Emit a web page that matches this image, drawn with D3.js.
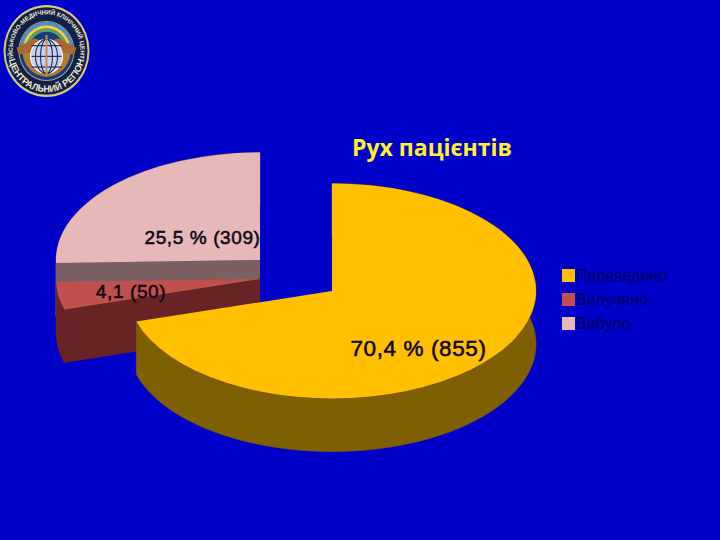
<!DOCTYPE html>
<html><head><meta charset="utf-8">
<script src="https://cdn.jsdelivr.net/npm/d3@7/dist/d3.min.js"></script>
<style>html,body{margin:0;padding:0;background:#0000c8}svg{display:block}</style>
</head><body><svg id="c" width="720" height="540"></svg>
<script>
const title = "Рух пацієнтів";
const categories = ["Переведено", "Вилучено", "Вибуло"];
const counts = [855, 50, 309];
const sliceLabels = ["70,4 % (855)", "4,1 (50)", "25,5 % (309)"];
const topColors = ["#ffc000", "#c0504d", "#e6b9b8"];
const sideColors = ["#7f6000", "#682424", "#7a6060"];
const centersX = [332, 260, 260];
const centersY = [291, 279, 260];
const labelX = [418.5, 131, 202.5];
const labelY = [356, 298, 244];
const labelSize = [22.5, 19, 19];

const BG = "#0000c8", INK = "#100818";
const RX = 204, RY = 107.5, DEPTH = 53;
const svg = d3.select("#c");
svg.append("rect").attr("width", 720).attr("height", 540).attr("fill", BG);

const arcs = d3.pie().sort(null).value(d => d)(counts);
const arc = d3.arc().innerRadius(0).outerRadius(RX);
const px = (i, a) => centersX[i] + RX * Math.sin(a);
const py = (i, a) => centersY[i] - RY * Math.cos(a);

function drawSlice(i) {
  const s = arcs[i];
  const g = svg.append("g");
  if (i > 0) {
    const a = s.startAngle;
    const poly = [[centersX[i], centersY[i]], [px(i, a), py(i, a)],
                  [px(i, a), py(i, a) + DEPTH], [centersX[i], centersY[i] + DEPTH]];
    g.append("path").attr("d", d3.line()(poly)).attr("fill", sideColors[i])
      .attr("stroke", sideColors[i]).attr("stroke-width", 0.6);
  }
  const rim = d3.range(s.startAngle, s.endAngle, 0.01).concat([s.endAngle]);
  g.append("path")
    .attr("d", d3.area().x(a => px(i, a)).y0(a => py(i, a)).y1(a => py(i, a) + DEPTH)(rim))
    .attr("fill", sideColors[i]).attr("stroke", sideColors[i]).attr("stroke-width", 0.6);
  g.append("path")
    .attr("transform", `translate(${centersX[i]},${centersY[i]}) scale(1,${RY / RX})`)
    .attr("d", arc(s)).attr("fill", topColors[i]);
}
[2, 1, 0].forEach(drawSlice);

sliceLabels.forEach((t, i) => {
  svg.append("text").attr("x", labelX[i]).attr("y", labelY[i])
    .attr("text-anchor", "middle").attr("fill", INK)
    .attr("stroke", INK).attr("stroke-width", 0.55)
    .style("font", `${labelSize[i]}px "Liberation Sans", Arial, sans-serif`)
    .style("letter-spacing", "0.6px")
    .text(t);
});

svg.append("text").attr("x", 432).attr("y", 156).attr("text-anchor", "middle")
  .attr("fill", "#fff030")
  .style("font", '700 23px "Open Sans", "Noto Sans", sans-serif')
  .text(title);

const legendY = d3.scalePoint().domain(categories).range([275, 323]);
categories.forEach((c, i) => {
  const y = legendY(c);
  svg.append("rect").attr("x", 562).attr("y", y - 6).attr("width", 13).attr("height", 13).attr("fill", topColors[i]);
  svg.append("text").attr("x", 576).attr("y", y + 5.5).attr("fill", "#000060")
    .style("font", '16px "Liberation Sans", Arial, sans-serif').text(c);
});

const logo = svg.append("g").attr("transform", "translate(46.5,51) scale(1,1.07)");
logo.append("circle").attr("r", 43).attr("fill", "#d8c880");
logo.append("circle").attr("r", 41).attr("fill", "#10204a");
logo.append("circle").attr("r", 28).attr("fill", "#d8c880").attr("opacity", .8);
logo.append("circle").attr("r", 27).attr("fill", "#1a3a80");
const rb = d3.arc();
["#4a90d0", "#f0d040", "#60a060"].forEach((col, i) => {
  logo.append("path").attr("fill", col).attr("d", rb({
    innerRadius: 24 - i * 3, outerRadius: 27 - i * 3,
    startAngle: -Math.PI / 2 + 0.2, endAngle: Math.PI / 2 - 0.2 }));
});
logo.append("path").attr("fill", "#a86830")
  .attr("d", "M-30,-3 L-12,-12 L0,-8 L12,-12 L30,-3 L28,3 L-28,3Z");
logo.append("path").attr("fill", "#b08030")
  .attr("d", rb({innerRadius: 16, outerRadius: 24, startAngle: Math.PI / 2 + 0.1, endAngle: 3 * Math.PI / 2 - 0.1}));
logo.append("circle").attr("r", 16).attr("cy", 5).attr("fill", "#c8d0f0").attr("stroke", "#fff").attr("stroke-width", 1);
[6, 11].forEach(rx => logo.append("ellipse").attr("cy", 5).attr("rx", rx).attr("ry", 16)
  .attr("fill", "none").attr("stroke", "#10204a").attr("stroke-width", 1));
[-5, 5, 15].forEach(y => logo.append("line").attr("x1", -15).attr("x2", 15).attr("y1", y).attr("y2", y)
  .attr("stroke", "#10204a").attr("stroke-width", 1));
logo.append("line").attr("x1", 0).attr("x2", 0).attr("y1", -15).attr("y2", 24).attr("stroke", "#c09040").attr("stroke-width", 2);
const defs = svg.append("defs");
defs.append("path").attr("id", "lt").attr("d", "M-33,8 A34,34 0 1 1 33,8");
defs.append("path").attr("id", "lb").attr("d", "M-38.5,0 A38.5,38.5 0 0 0 38.5,0");
logo.append("text").attr("fill", "#f0e8c0").style("font", '700 6px "Liberation Sans", sans-serif')
  .append("textPath").attr("href", "#lt").attr("startOffset", "50%").attr("text-anchor", "middle")
  .text("ВІЙСЬКОВО-МЕДИЧНИЙ КЛІНІЧНИЙ ЦЕНТР");
logo.append("text").attr("fill", "#f0e8c0").style("font", '700 9px "Liberation Sans", sans-serif')
  .append("textPath").attr("href", "#lb").attr("startOffset", "50%").attr("text-anchor", "middle")
  .text("ЦЕНТРАЛЬНИЙ РЕГІОН");
</script></body></html>
